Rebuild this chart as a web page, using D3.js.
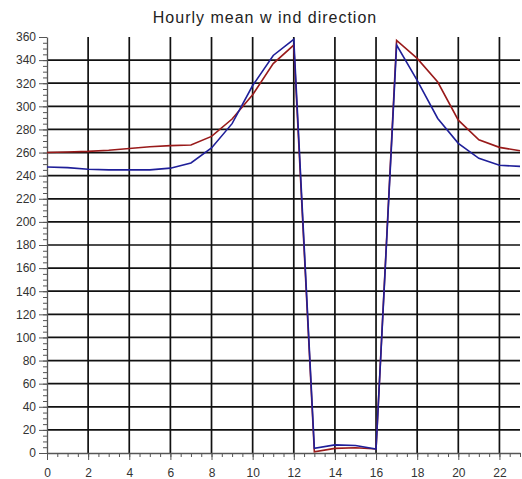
<!DOCTYPE html>
<html>
<head>
<meta charset="utf-8">
<script src="https://cdn.jsdelivr.net/npm/d3@7"></script>
<style>
  body { margin: 0; background: #fff; }
  svg { display: block; font-family: "Liberation Sans", Arial, sans-serif; }
</style>
</head>
<body>
<svg id="chart" width="522" height="479"></svg>
<script>
// hourly mean wind direction, two series
const hours = [0, 1, 2, 3, 4, 5, 6, 7, 8, 9, 10, 11, 12, 13, 14, 15, 16, 17, 18, 19, 20, 21, 22, 23];
const redSeries = [260, 260.5, 261, 262, 263.5, 265, 266, 266.5, 274, 289, 310, 337, 353, 1, 4, 4.5, 3.5, 357, 341.5, 321, 288, 271, 264.5, 261.5];
const blueSeries = [247.5, 247, 245.5, 245, 245, 245, 246.5, 251, 264, 285, 318, 344, 358, 4, 7, 6.5, 3.5, 353, 322.5, 289.5, 268, 255, 249, 248];
const xTicks = [0, 2, 4, 6, 8, 10, 12, 14, 16, 18, 20, 22];
const yTicks = [0, 20, 40, 60, 80, 100, 120, 140, 160, 180, 200, 220, 240, 260, 280, 300, 320, 340, 360];
const title = "Hourly mean w ind direction";

const svg = d3.select("#chart");
const mLeft = 47, mRight = 520, mTop = 37, mBottom = 453;

const x = d3.scaleLinear().domain([0, 23]).range([mLeft, mRight]);
const y = d3.scaleLinear().domain([0, 360]).range([mBottom, mTop]);

// grid
const grid = svg.append("g").attr("stroke", "#111").attr("stroke-width", 1.7);
grid.selectAll("line.v")
    .data(xTicks.filter(d => d > 0))
    .enter().append("line")
    .attr("x1", d => x(d)).attr("x2", d => x(d))
    .attr("y1", y(360)).attr("y2", y(0));
grid.selectAll("line.h")
    .data(yTicks.filter(d => d > 0 && d < 360))
    .enter().append("line")
    .attr("x1", x(0)).attr("x2", x(23))
    .attr("y1", d => y(d)).attr("y2", d => y(d));

// axes
const axisColor = "#555";
const yMinor = svg.append("g")
    .attr("transform", "translate(" + mLeft + ",0)")
    .call(d3.axisLeft(y).ticks(90).tickSize(4).tickFormat(""));
yMinor.selectAll("line").attr("stroke", axisColor);
yMinor.select(".domain").remove();

const yAxis = svg.append("g")
    .attr("transform", "translate(" + mLeft + ",0)")
    .call(d3.axisLeft(y).tickValues(yTicks).tickSize(8).tickSizeOuter(0).tickPadding(3));
yAxis.selectAll("line").attr("stroke", axisColor);
yAxis.select(".domain").attr("stroke", axisColor).attr("stroke-width", 1.3);

const xMinor = svg.append("g")
    .attr("transform", "translate(0," + mBottom + ")")
    .call(d3.axisBottom(x).tickValues(d3.range(0, 23.01, 0.5)).tickSize(4).tickFormat(""));
xMinor.selectAll("line").attr("stroke", axisColor);
xMinor.select(".domain").remove();

const xAxis = svg.append("g")
    .attr("transform", "translate(0," + mBottom + ")")
    .call(d3.axisBottom(x).tickValues(xTicks).tickSize(7).tickSizeOuter(0).tickPadding(8));
xAxis.selectAll("line").attr("stroke", axisColor);
xAxis.select(".domain").attr("stroke", axisColor).attr("stroke-width", 1.3);

svg.selectAll(".tick text")
    .attr("fill", "#333")
    .style("font-size", "12px")
    .style("font-family", "'Liberation Sans', Arial, sans-serif");

// lines
const line = d3.line()
    .x((d, i) => x(hours[i]))
    .y(d => y(d));

svg.append("path")
    .datum(redSeries)
    .attr("fill", "none")
    .attr("stroke", "#991a1a")
    .attr("stroke-width", 1.6)
    .attr("d", line);

svg.append("path")
    .datum(blueSeries)
    .attr("fill", "none")
    .attr("stroke", "#1f1f99")
    .attr("stroke-width", 1.6)
    .attr("d", line);

// title
svg.append("text")
    .attr("x", 265)
    .attr("y", 23)
    .attr("text-anchor", "middle")
    .attr("fill", "#222")
    .style("font-size", "16px")
    .style("letter-spacing", "1px")
    .text(title);
</script>
</body>
</html>
